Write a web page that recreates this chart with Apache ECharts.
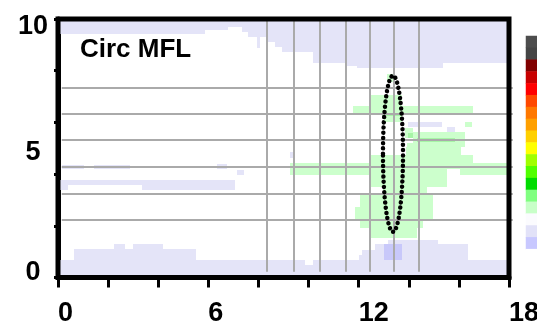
<!DOCTYPE html>
<html><head><meta charset="utf-8">
<script src="https://cdn.jsdelivr.net/npm/echarts@6/dist/echarts.min.js"></script>
<style>html,body{margin:0;padding:0;background:#fff}#c{width:537px;height:324px}</style>
</head><body><div id="c"></div>
<script>
// ---- data ----
const xLabels = [0, 6, 12, 18];
const yLabels = [0, 5, 10];
const yTicks = [0, 2, 4, 6, 8, 10];
const hLineY = [7.35, 6.31, 5.30, 4.28, 3.24, 2.22];
const vLineX = [8.36, 9.41, 10.45, 11.49, 12.44, 13.40, 14.39];
// patches [x0, x1, y0, y1]
const lavenderCells = [
  [0,5.85,9.42,10],[5.85,6.77,9.57,10],[6.77,7.33,9.70,10],[7.33,7.57,9.51,10],
  [7.57,8.33,9.32,10],[7.93,8.05,8.88,9.32],[8.33,8.65,9.12,10],[8.65,8.93,8.93,10],
  [8.93,10.16,8.73,10],[10.16,11.52,8.30,10],[11.52,11.92,8.18,10],[11.92,15.35,8.09,10],
  [15.35,18,8.29,10],
  [0,0.64,0,0.68],[0.64,2.24,0,1.09],[2.24,2.68,0,1.30],[2.68,3.0,0,1.09],[3.0,4.2,0,1.30],
  [4.2,5.52,0,1.09],[5.52,9.84,0,0.68],[9.84,10.16,0,0.48],[10.16,12.0,0,0.68],
  [12.0,12.12,0,0.87],[12.12,12.64,0,1.06],[12.64,13.16,0,1.28],[13.16,15.16,0,1.45],
  [15.16,16.36,0,1.28],[16.36,18,0,0.68],
  [0.15,1.03,4.20,4.35],[1.43,2.86,4.20,4.35],[0,3.34,3.58,3.77],[0,0.4,3.38,3.58],
  [3.34,7.05,3.38,3.77],[6.33,6.73,4.20,4.39],[7.13,7.41,3.97,4.16],[9.25,9.41,4.62,4.86],
  [13.95,15.31,5.82,6.02],[15.51,15.83,5.59,5.82],[13.2,13.4,3.31,3.50]
];
const greenCells = [
  [13.12,13.36,7.56,7.87],[12.5,13.71,6.63,7.06],[11.76,16.55,6.29,6.63],[13.03,13.71,6.02,6.29],
  [16.23,16.51,5.82,6.02],[13.83,14.15,5.40,5.78],[14.15,16.23,5.05,5.63],[13.91,15.91,5.01,5.20],
  [13.9,16.1,4.74,5.05],[12.44,16.55,4.43,4.74],[9.25,18,4.20,4.43],[9.25,15.51,3.97,4.20],
  [16.03,18,3.97,4.20],[12.44,15.51,3.50,3.97],[12.96,14.71,3.19,3.50],[12.04,14.95,2.73,3.19],
  [11.84,14.95,2.22,2.73],[12.04,14.55,1.91,2.22],[12.44,14.31,1.53,1.91]
];
const greenDarkCells = [[12.92,13.71,6.25,6.37],[13.95,14.15,5.40,5.59],[14.32,15.83,5.24,5.40]];
const blueCells = [[13.03,13.71,0.68,1.28]];
// ellipse [cx, cy, rx, ry]
const ellipseMark = [[13.37, 4.79, 0.40, 3.02]];
// colour scale (top to bottom)
const scaleColors = ['#4d4d4d','#454545','#800000','#c80000','#ff0000','#ff4800','#ff7800','#ffa000',
  '#ffd000','#ffff00','#a0ff00','#50ff00','#00dc00','#80ff80','#c8ffc8','#fbfbfe','#e2e2f8','#c8c8ff','#ffffff'];

const FONT = '"Liberation Sans", Arial, sans-serif';

function rectSeries(name, data, color) {
  return {
    type: 'custom', name, data, xAxisIndex: 0, yAxisIndex: 0, z: 1, silent: true,
    renderItem: (p, api) => {
      const a = api.coord([api.value(0), api.value(3)]);
      const b = api.coord([api.value(1), api.value(2)]);
      const x = Math.round(a[0]), y = Math.round(a[1]);
      return { type: 'rect', shape: { x, y, width: Math.round(b[0]) - x, height: Math.round(b[1]) - y },
        style: { fill: color } };
    }
  };
}
const lbl = { fontFamily: FONT, fontWeight: 'bold', fontSize: 27, color: '#000' };

const chart = echarts.init(document.getElementById('c'), null, { renderer: 'canvas' });
chart.setOption({
  animation: false,
  backgroundColor: '#fff',
  title: { text: 'Circ MFL', left: 80, top: 37, padding: 0,
    textStyle: { fontFamily: FONT, fontWeight: 'bold', fontSize: 26, color: '#000' } },
  grid: [
    { left: 58, top: 19, width: 451, height: 258.5, show: true, borderColor: '#000', borderWidth: 5,
      backgroundColor: 'transparent', z: 5, containLabel: false, outerBoundsMode: 'none' },
    { left: 526, top: 36, width: 22, height: 225, show: false, containLabel: false, outerBoundsMode: 'none' }
  ],
  xAxis: [
    { type: 'value', gridIndex: 0, min: 0, max: 18, interval: 2,
      axisLine: { show: true, lineStyle: { color: '#000', width: 5 } },
      axisTick: { show: true, length: 10, lineStyle: { color: '#000', width: 3 } },
      splitLine: { show: false },
      axisLabel: Object.assign({ show: true, margin: 23, align: 'left', hideOverlap: false,
        formatter: v => xLabels.includes(v) ? String(v) : '' }, lbl) },
    { type: 'category', gridIndex: 1, data: ['c'], show: false }
  ],
  yAxis: [
    { type: 'value', gridIndex: 0, min: 0, max: 10,
      axisLine: { show: true, lineStyle: { color: '#000', width: 5 } },
      axisTick: { show: true, length: 4, customValues: yTicks, lineStyle: { color: '#000', width: 3 } },
      splitLine: { show: false },
      axisLabel: Object.assign({ show: true, margin: 25, align: 'center', verticalAlign: 'middle', customValues: yLabels,
        hideOverlap: false,
        formatter: v => v === 10 ? '{t|10}' : v === 5 ? '{m|5}' : '{b|0}',
        rich: {
          t: Object.assign({ padding: [16, 0, 0, 0] }, lbl),
          m: Object.assign({ padding: [8, 0, 0, 0] }, lbl),
          b: Object.assign({ padding: [0, 0, 9, 0] }, lbl)
        } }, lbl) },
    { type: 'category', gridIndex: 1, inverse: true, data: scaleColors.map((c, i) => 's' + i), show: false }
  ],
  series: [
    rectSeries('lavender', lavenderCells, '#e4e4f8'),
    rectSeries('green', greenCells, '#ccffcc'),
    rectSeries('greenDark', greenDarkCells, '#a6f5a6'),
    rectSeries('blue', blueCells, '#c8c8fa'),
    { type: 'custom', name: 'hLines', data: hLineY.map(y => [y]), z: 3, silent: true, clip: false,
      renderItem: (p, api) => {
        const a = api.coord([0.15, api.value(0)]);
        const b = api.coord([18.15, api.value(0)]);
        const y = Math.round(a[1]);
        return { type: 'line', shape: { x1: a[0], y1: y, x2: b[0], y2: y }, style: { stroke: '#aaaaaa', lineWidth: 2 } };
      } },
    { type: 'custom', name: 'vLines', data: vLineX.map(x => [x]), z: 3, silent: true,
      renderItem: (p, api) => {
        const a = api.coord([api.value(0), 10]);
        const b = api.coord([api.value(0), 0.22]);
        const x = Math.round(a[0]);
        return { type: 'line', shape: { x1: x, y1: a[1], x2: x, y2: b[1] }, style: { stroke: '#aaaaaa', lineWidth: 2 } };
      } },
    { type: 'custom', name: 'ellipse', data: ellipseMark, z: 4, silent: true,
      renderItem: (p, api) => {
        const c = api.coord([api.value(0), api.value(1)]);
        const s = api.size([api.value(2), api.value(3)]);
        return { type: 'ellipse', shape: { cx: c[0], cy: c[1], rx: s[0], ry: s[1] },
          style: { fill: null, stroke: '#000', lineWidth: 4.5, lineDash: [0.01, 5.2], lineCap: 'round' } };
      } },
    { type: 'heatmap', xAxisIndex: 1, yAxisIndex: 1, silent: true,
      data: scaleColors.map((c, i) => ({ value: [0, i, i], itemStyle: { color: c } })) }
  ]
});
</script></body></html>
